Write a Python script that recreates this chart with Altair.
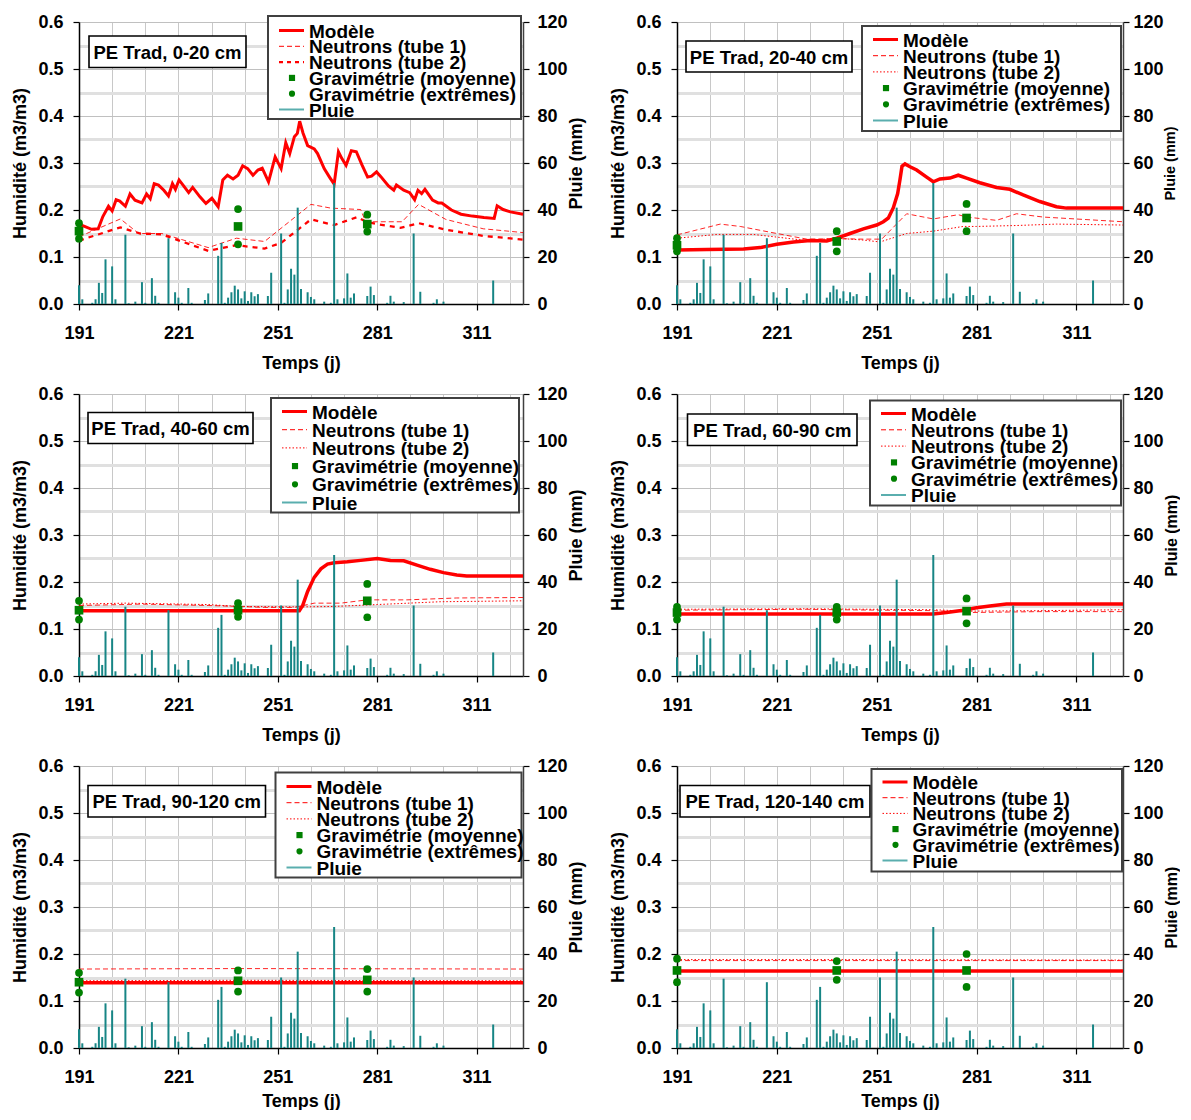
import altair as alt
import pandas as pd

FONT = "Liberation Sans"
RED = "#ff0000"
GREEN = "#008000"
TEAL = "#178585"
TEAL_LEG = "#5aaeae"

# ---------------- data ----------------
rain_day = [191, 192, 195, 196, 197, 198, 199, 201, 202, 205, 206, 208, 210, 211, 213, 214, 215,
            218, 220, 221, 222, 224, 225, 229, 230, 233, 234, 235, 236, 237, 238, 239, 240, 241,
            242, 243, 244, 245, 248, 249, 252, 253, 254, 255, 256, 257, 258, 260, 261, 262, 265,
            267, 268, 269, 271, 272, 273, 274, 278, 279, 280, 284, 285, 286, 289, 292, 294, 298,
            299, 301, 316]
rain_mm = [8, 2, 0.5, 2, 9, 4.7, 19, 16, 2, 29.5, 0.3, 1, 9.3, 0.5, 11, 3.5, 0.5,
           28, 5, 2.7, 0.5, 6.8, 0.5, 1.7, 4.5, 20.5, 26, 0.5, 2.7, 5, 7.8, 6.2, 2.4, 5.4,
           1.3, 5, 3.3, 4.2, 3.4, 13.3, 30, 0.5, 6.2, 15, 12.5, 41, 6.4, 5, 3, 2, 1,
           0.5, 51.5, 2, 2.4, 13, 2.7, 4.5, 3.4, 7.4, 3.8, 0.5, 3.5, 1, 0.8, 30, 5.2, 0.5,
           2, 1, 10]

grav_day = [191, 239, 278]

# Panel 1 : 0-20 cm
p1_model_day = [191, 192.1, 194.8, 196.8, 198.2, 199.9, 201, 202.2, 203.3, 205, 206.4, 207.9, 210,
                211.4, 212.5, 213.7, 215, 216.6, 218, 219.2, 220.1, 221.2, 222.4, 224.1, 225.3,
                227.5, 229.3, 231.1, 233, 234.4, 235.8, 237.5, 239, 240.4, 241.9, 243.5, 245,
                246.3, 248.2, 250.2, 252, 253.4, 254.6, 256, 256.9, 257.6, 258.6, 260, 262, 263,
                265, 266.6, 268, 269.3, 270.3, 271.6, 273.2, 274.7, 276.4, 278.1, 279.3, 280.8,
                282.1, 284.4, 286, 286.8, 289, 290.8, 292.3, 293.3, 294.4, 295.4, 297.7, 299.4,
                300.5, 303.4, 306.3, 309.7, 313.2, 316.3, 317.2, 319, 321.2, 325]
p1_model_val = [.164, .167, .159, .160, .186, .208, .198, .222, .219, .208, .234, .221, .215,
                .234, .224, .256, .253, .242, .230, .256, .244, .264, .253, .237, .248,
                .228, .214, .225, .207, .264, .274, .266, .274, .294, .288, .274, .285,
                .289, .260, .313, .288, .343, .320, .356, .363, .389, .364, .337, .330, .320,
                .288, .270, .255, .324, .310, .295, .326, .324, .296, .270, .272, .281,
                .271, .251, .242, .253, .242, .237, .222, .242, .235, .244, .221, .215,
                .215, .200, .191, .187, .184, .182, .209, .201, .196, .191]
p1_t1_day = [191, 203.5, 209, 216, 230, 238.5, 247, 261, 267, 276, 277.5, 288.5, 293.5, 301.7, 313, 325]
p1_t1_val = [.143, .181, .150, .150, .120, .140, .133, .212, .204, .201, .175, .175, .212, .180, .160, .152]
p1_t2_day = [191, 203.5, 209.5, 216, 230, 238.5, 247, 252, 261, 268, 275, 277.7, 281, 288, 293.5, 301.7, 313, 325]
p1_t2_val = [.135, .163, .150, .148, .113, .125, .118, .130, .180, .168, .185, .175, .170, .162, .172, .158, .145, .137]
p1_grav_mean = [.155, .165, .170]
p1_grav_max = [.172, .202, .190]
p1_grav_min = [.139, .127, .154]

# Panel 2 : 20-40 cm
p2_model_day = [191, 200, 211, 216, 221, 226, 231, 236, 239, 243, 247, 251, 253, 254.5, 256, 257.3,
                258, 258.6, 259.5, 261, 263, 266, 268, 270, 273, 275.5, 278, 282, 287, 291, 295,
                300, 305, 308, 325]
p2_model_val = [.115, .116, .117, .120, .127, .132, .135, .134, .140, .150, .160, .168, .175, .183,
                .205, .235, .265, .293, .298, .292, .285, .270, .260, .266, .268, .274, .268, .258,
                .248, .244, .232, .218, .207, .204, .204]
p2_t1_day = [191, 204, 210, 221, 230, 239, 247, 252.5, 260, 268, 275.5, 278, 287, 293, 301, 313, 325]
p2_t1_val = [.147, .170, .165, .150, .138, .139, .138, .138, .192, .181, .190, .185, .178, .192, .185, .180, .175]
p2_t2_day = [191, 203, 214, 230, 239, 247, 252, 260, 268, 277, 281, 293, 305, 325]
p2_t2_val = [.140, .148, .148, .135, .140, .136, .132, .150, .155, .165, .165, .167, .170, .168]
p2_grav_mean = [.125, .133, .183]
p2_grav_max = [.140, .155, .213]
p2_grav_min = [.112, .112, .155]

# Panel 3 : 40-60 cm
p3_model_day = [191, 257.5, 258.5, 260, 262, 264, 266, 268, 272, 276, 281, 285, 289, 293, 297, 301, 305, 308, 325]
p3_model_val = [.139, .139, .150, .180, .210, .228, .238, .241, .243, .246, .250, .246, .245, .236, .227, .220, .215, .213, .213]
p3_t1_day = [191, 210, 230, 239, 247, 256, 262, 270, 278, 290, 305, 325]
p3_t1_val = [.150, .153, .150, .148, .146, .146, .155, .155, .162, .162, .166, .167]
p3_t2_day = [191, 205, 230, 239, 258, 268, 281, 300, 325]
p3_t2_val = [.153, .155, .152, .148, .147, .148, .152, .158, .160]
p3_grav_mean = [.140, .140, .160]
p3_grav_max = [.160, .155, .196]
p3_grav_min = [.120, .126, .125]

# Panel 4 : 60-90 cm
p4_model_day = [191, 268, 272, 277, 281, 285, 290, 325]
p4_model_val = [.132, .132, .135, .140, .145, .149, .153, .153]
p4_t1_day = [191, 230, 239, 268, 276, 278, 300, 325]
p4_t1_val = [.140, .142, .141, .139, .137, .135, .137, .137]
p4_t2_day = [191, 230, 268, 278, 300, 325]
p4_t2_val = [.142, .143, .141, .138, .139, .141]
p4_grav_mean = [.135, .135, .138]
p4_grav_max = [.147, .147, .165]
p4_grav_min = [.120, .120, .112]

# Panel 5 : 90-120 cm
p5_model_day = [191, 325]
p5_model_val = [.139, .139]
p5_t1_day = [191, 239, 325]
p5_t1_val = [.168, .169, .168]
p5_t2_day = [191, 239, 325]
p5_t2_val = [.143, .144, .143]
p5_grav_mean = [.140, .143, .145]
p5_grav_max = [.160, .165, .168]
p5_grav_min = [.118, .120, .120]

# Panel 6 : 120-140 cm
p6_model_day = [191, 325]
p6_model_val = [.164, .164]
p6_t1_day = [191, 239, 325]
p6_t1_val = [.186, .186, .186]
p6_t2_day = [191, 239, 325]
p6_t2_val = [.188, .188, .187]
p6_grav_mean = [.165, .165, .165]
p6_grav_max = [.190, .185, .200]
p6_grav_min = [.140, .145, .130]

titles = ["PE Trad, 0-20 cm", "PE Trad, 20-40 cm", "PE Trad, 40-60 cm",
          "PE Trad, 60-90 cm", "PE Trad, 90-120 cm", "PE Trad, 120-140 cm"]
legend_labels = ["Modèle", "Neutrons (tube 1)", "Neutrons (tube 2)",
                 "Gravimétrie (moyenne)", "Gravimétrie (extrêmes)", "Pluie"]

# ---------------- layout (pixels relative to plot area) ----------------
layout = [
    dict(w=444, box=(189, -6, 442, 97), row0=8.5, dy=15.8, tbox=(10, 14, 167, 45.5), ry=18, rlp=8, xtp=12),
    dict(w=446, box=(185, 4, 444, 109), row0=17.5, dy=16.2, tbox=(9, 19, 175, 50), ry=14.5, rlp=4, xtp=12),
    dict(w=444, box=(192, 4, 440, 118.5), row0=17.5, dy=18.2, tbox=(9, 18.5, 174, 49.5), ry=18, rlp=8, xtp=12),
    dict(w=446, box=(193, 6.5, 444, 111.5), row0=19.5, dy=16.3, tbox=(10.5, 20, 180, 51.5), ry=16, rlp=4, xtp=12),
    dict(w=444, box=(196.5, 6.5, 442.5, 111.5), row0=20.5, dy=16.2, tbox=(9, 19.5, 186.5, 51), ry=18, rlp=8, xtp=6),
    dict(w=446, box=(194.5, 3, 445, 105.5), row0=16, dy=15.7, tbox=(3, 19.5, 193, 51), ry=16, rlp=4, xtp=6),
]
H = 282
TXT = 19
TTXT = 18.5

panels_data = [
    (p1_model_day, p1_model_val, p1_t1_day, p1_t1_val, p1_t2_day, p1_t2_val, p1_grav_mean, p1_grav_max, p1_grav_min),
    (p2_model_day, p2_model_val, p2_t1_day, p2_t1_val, p2_t2_day, p2_t2_val, p2_grav_mean, p2_grav_max, p2_grav_min),
    (p3_model_day, p3_model_val, p3_t1_day, p3_t1_val, p3_t2_day, p3_t2_val, p3_grav_mean, p3_grav_max, p3_grav_min),
    (p4_model_day, p4_model_val, p4_t1_day, p4_t1_val, p4_t2_day, p4_t2_val, p4_grav_mean, p4_grav_max, p4_grav_min),
    (p5_model_day, p5_model_val, p5_t1_day, p5_t1_val, p5_t2_day, p5_t2_val, p5_grav_mean, p5_grav_max, p5_grav_min),
    (p6_model_day, p6_model_val, p6_t1_day, p6_t1_val, p6_t2_day, p6_t2_val, p6_grav_mean, p6_grav_max, p6_grav_min),
]

rain_df = pd.DataFrame({"day": rain_day, "mm": rain_mm})
ONE = alt.Data(values=[{}])


def panel(i):
    md, mv, t1d, t1v, t2d, t2v, gmean, gmax, gmin = panels_data[i]
    L = layout[i]
    W = L["w"]
    first = i == 0
    xs = alt.Scale(domain=[191, 325], nice=False, zero=False, padding=0)
    ys = alt.Scale(domain=[0, 0.6], nice=False, zero=True, padding=0)
    rs = alt.Scale(domain=[0, 120], nice=False, zero=True, padding=0)
    xaxis = alt.Axis(
        values=list(range(191, 322, 10)),
        labelExpr="(datum.value - 191) % 30 == 0 ? datum.label : ''",
        tickOpacity={"condition": {"test": "(datum.value - 191) % 30 == 0", "value": 1}, "value": 0},
        title="Temps (j)", grid=True, gridColor="#c8c8c8", gridWidth=1,
        tickSize=6, labelPadding=14, titlePadding=L["xtp"], labelFlush=False, format="d",
    )
    X = alt.X("day:Q", scale=xs, axis=xaxis)
    yaxis = alt.Axis(values=[0, 0.1, 0.2, 0.3, 0.4, 0.5, 0.6], format=".1f", orient="left",
                     title="Humidité (m3/m3)", grid=True, gridColor="#c0c0c0", gridWidth=1,
                     tickSize=6, labelPadding=10, titlePadding=8)
    Y = alt.Y("val:Q", scale=ys, axis=yaxis)

    model = alt.Chart(pd.DataFrame({"day": md, "val": mv})).mark_line(
        color=RED, strokeWidth=3 if first else 3.5).encode(X, Y)
    t1 = alt.Chart(pd.DataFrame({"day": t1d, "val": t1v})).mark_line(
        color=RED, strokeWidth=1, strokeDash=[5, 3], opacity=0.85).encode(X, Y)
    if first:
        t2 = alt.Chart(pd.DataFrame({"day": t2d, "val": t2v})).mark_line(
            color=RED, strokeWidth=2.3, strokeDash=[5, 5]).encode(X, Y)
    else:
        t2 = alt.Chart(pd.DataFrame({"day": t2d, "val": t2v})).mark_line(
            color=RED, strokeWidth=1, strokeDash=[1.5, 2]).encode(X, Y)
    hum = alt.layer(model, t1, t2)

    raxis = alt.Axis(values=list(range(0, 121, 10)), orient="right", title="Pluie (mm)",
                     labelExpr="datum.value % 20 == 0 ? datum.label : ''",
                     tickOpacity={"condition": {"test": "datum.value % 20 == 0", "value": 1}, "value": 0},
                     grid=True, gridColor="#e0e0e0", gridWidth=3,
                     gridOpacity={"condition": {"test": "datum.value % 20 != 0", "value": 1}, "value": 0},
                     tickSize=6, labelPadding=L["rlp"], titlePadding=0, titleAngle=270, titleBaseline="top",
                     titleFontSize=L["ry"], domainColor="#404040")
    rain = alt.Chart(rain_df).mark_bar(width=2, color=TEAL).encode(
        X, alt.Y("mm:Q", scale=rs, axis=raxis))

    Yp = alt.Y("val:Q", scale=ys, axis=None)
    gdf_mean = pd.DataFrame({"day": grav_day, "val": gmean})
    gdf_ext = pd.DataFrame({"day": grav_day + grav_day, "val": gmax + gmin})
    sq = alt.Chart(gdf_mean).mark_point(shape="square", filled=True, size=75, color=GREEN, opacity=1).encode(X, Yp)
    ci = alt.Chart(gdf_ext).mark_point(shape="circle", filled=True, size=60, color=GREEN, opacity=1).encode(X, Yp)
    pts = alt.layer(ci, sq)

    deco = []
    # title box
    tx0, ty0, tx1, ty1 = L["tbox"]
    deco.append(alt.Chart(ONE).mark_rect(fill="white", stroke="black", strokeWidth=1.6).encode(
        x=alt.value(tx0), x2=alt.value(tx1), y=alt.value(ty0), y2=alt.value(ty1)))
    deco.append(alt.Chart(ONE).mark_text(font=FONT, fontSize=TTXT, fontWeight="bold", color="black",
                                         align="center", baseline="middle").encode(
        x=alt.value((tx0 + tx1) / 2), y=alt.value((ty0 + ty1) / 2 + 1), text=alt.value(titles[i])))
    # legend box
    bx0, by0, bx1, by1 = L["box"]
    deco.append(alt.Chart(ONE).mark_rect(fill="white", stroke="#404040", strokeWidth=2).encode(
        x=alt.value(bx0), x2=alt.value(bx1), y=alt.value(by0), y2=alt.value(by1)))
    sx0, sx1, sc, tx = bx0 + 11, bx0 + 36, bx0 + 24, bx0 + 41
    for k, lab in enumerate(legend_labels):
        yy = L["row0"] + k * L["dy"]
        deco.append(alt.Chart(ONE).mark_text(font=FONT, fontSize=TXT, fontWeight="bold", color="black",
                                             align="left", baseline="middle").encode(
            x=alt.value(tx), y=alt.value(yy + 1), text=alt.value(lab)))
        if k == 0:
            m = alt.Chart(ONE).mark_rule(color=RED, strokeWidth=3)
        elif k == 1:
            m = alt.Chart(ONE).mark_rule(color=RED, strokeWidth=1, strokeDash=[5, 3])
        elif k == 2:
            if first:
                m = alt.Chart(ONE).mark_rule(color=RED, strokeWidth=2.3, strokeDash=[4, 4])
            else:
                m = alt.Chart(ONE).mark_rule(color=RED, strokeWidth=1, strokeDash=[1.5, 2])
        elif k == 5:
            m = alt.Chart(ONE).mark_rule(color=TEAL_LEG, strokeWidth=2)
        else:
            m = None
        if m is not None:
            deco.append(m.encode(x=alt.value(sx0), x2=alt.value(sx1), y=alt.value(yy)))
        elif k == 3:
            deco.append(alt.Chart(ONE).mark_point(shape="square", filled=True, size=38, color=GREEN, opacity=1).encode(
                x=alt.value(sc), y=alt.value(yy)))
        else:
            deco.append(alt.Chart(ONE).mark_point(shape="circle", filled=True, size=38, color=GREEN, opacity=1).encode(
                x=alt.value(sc), y=alt.value(yy)))

    return alt.layer(hum, rain, pts, *deco).resolve_scale(y="independent").properties(width=W, height=H)


rows = [alt.hconcat(panel(2 * r), panel(2 * r + 1), spacing=23) for r in range(3)]
chart = alt.vconcat(*rows, spacing=13).properties(
    padding={"left": 3, "top": 5, "right": 0, "bottom": 0}
).configure_view(stroke=None).configure_axis(
    labelFont=FONT, titleFont=FONT, labelFontSize=18, titleFontSize=18,
    labelFontWeight="bold", titleFontWeight="bold", labelColor="black", titleColor="black",
    domainColor="black", domainWidth=1.5, tickColor="black", tickWidth=1.2,
)

chart.save("out.html", embed_options={"renderer": "svg", "actions": False})
